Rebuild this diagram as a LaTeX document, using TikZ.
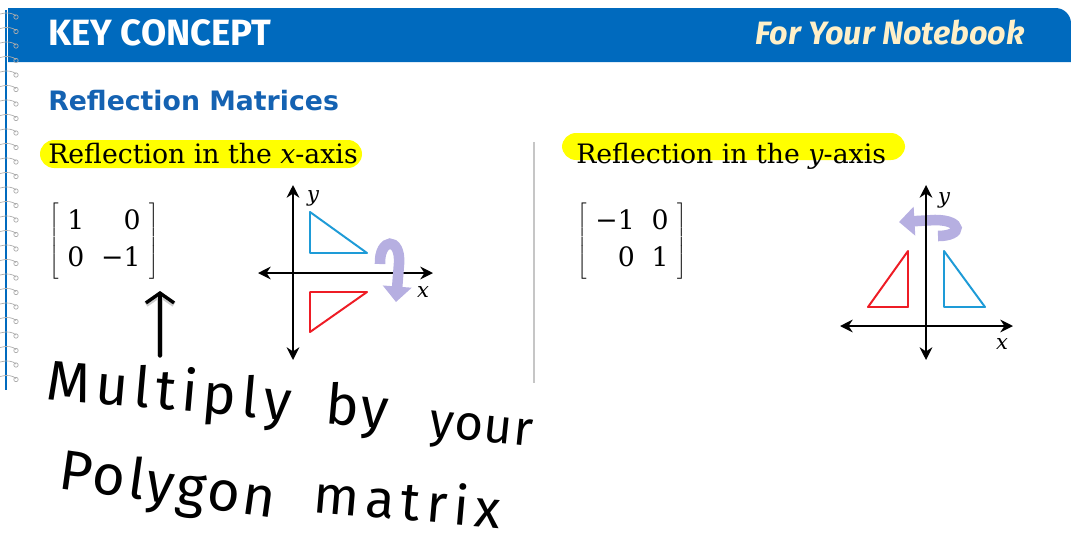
\documentclass[tikz,border=0pt]{standalone}
\usepackage{fontspec}
\setmainfont{DejaVu Serif}
\newfontfamily\headfont{Fira Sans}
\newfontfamily\sectfont{DejaVu Sans}
\newfontfamily\handfont{Fira Sans}
\usetikzlibrary{arrows.meta}

\definecolor{keyblue}{RGB}{0,106,190}
\definecolor{titleblue}{RGB}{20,98,178}
\definecolor{notecream}{RGB}{255,240,200}
\definecolor{triblue}{RGB}{30,155,215}
\definecolor{trired}{RGB}{238,28,37}
\definecolor{turnlilac}{RGB}{182,175,225}
\definecolor{hiyellow}{RGB}{255,255,0}

\tikzset{
  axisline/.style={line width=1.7pt,
    {Stealth[length=9pt,width=9pt]}-{Stealth[length=9pt,width=9pt]}},
  triline/.style={line width=1.4pt, line join=round},
  turnarrow/.style={line width=7.5pt, turnlilac,
    -{Triangle[length=11pt,width=20pt]}},
  hilite/.style={fill=hiyellow, rounded corners=10pt},
  handpen/.style={line width=2.4pt, black, line cap=round, line join=round,
    preaction={draw, line width=4pt, gray!40}},
  handword/.style={inner sep=0pt, anchor=base west},
  axlabel/.style={font=\itshape\fontsize{15}{18}\selectfont, inner sep=0pt},
  matnode/.style={font=\fontsize{19}{23}\selectfont, inner sep=0pt}
}

% --- Рукописный шрифт: размер и разрядка ---
\newcommand\handsize[2]{\handfont\addfontfeature{LetterSpace=#2}\fontsize{#1}{#1}\selectfont}
\newcommand\bigbrace{\rule[-24pt]{0pt}{57pt}}

\begin{document}
\begin{tikzpicture}[x=0.025cm, y=-0.025cm]

\useasboundingbox (0,0) rectangle (1071,541);

% --- Шапка ---
\fill[keyblue] (8,62) -- (8,8) [rounded corners=11pt] -- (1071,8)
  [sharp corners] -- (1071,62) -- cycle;
\node[anchor=base west, inner sep=0pt, white,
  font=\headfont\bfseries\fontsize{26}{30}\selectfont] (keytitle) at (48,45) {KEY CONCEPT};
\node[anchor=base east, inner sep=0pt, notecream,
  font=\headfont\bfseries\itshape\fontsize{23}{27}\selectfont] (notebook) at (1025,44) {For Your Notebook};

% --- Спираль блокнота ---
\draw[keyblue, line width=1.4pt] (6,10) -- (6,390);
\foreach \yy in {14,28.5,...,388} {
  \draw[gray!65, line width=0.5pt] (0,\yy) .. controls (7,\yy-2) and (13,\yy-1) .. (16,\yy+2);
  \draw[gray!65, line width=0.5pt] (16,\yy+3) circle (2.2);
}

% --- Заголовок раздела ---
\node[anchor=base west, inner sep=0pt, titleblue,
  font=\sectfont\bfseries\fontsize{19}{23}\selectfont] (sectitle) at (48,110) {Reflection Matrices};

% --- Подсветка ---
\path[hilite] (40,140) rectangle (362,168);
\path[hilite] (562,133) rectangle (905,160);
\node[anchor=base west, inner sep=0pt, font=\fontsize{19}{23}\selectfont]
  (xhead) at (48,163) {Reflection in the \textit{x}-axis};
\node[anchor=base west, inner sep=0pt, font=\fontsize{19}{23}\selectfont]
  (yhead) at (576,163) {Reflection in the \textit{y}-axis};

% --- Разделитель ---
\draw[gray!45, line width=1.1pt] (534,142) -- (534,383);

% --- Матрицы ---
\setlength{\arraycolsep}{6pt}
\node[matnode] (xmat) at (104,241)
  {$\left[\bigbrace\begin{array}{rr}\mbox{1} & \mbox{0}\\[3pt] \mbox{0} & \mbox{−1}\end{array}\right]$};
\node[matnode] (ymat) at (632,241)
  {$\left[\bigbrace\begin{array}{rr}\mbox{−1} & \mbox{0}\\[3pt] \mbox{0} & \mbox{1}\end{array}\right]$};

% --- Отражение в оси x ---
\draw[triline, triblue] (310,212) -- (310,253) -- (367,253) -- cycle;
\draw[triline, trired] (310,292) -- (367,292) -- (310,332) -- cycle;
\draw[axisline] (293,360) -- (293,185);
\draw[axisline] (258,273) -- (433,273);
\node[axlabel] (xly) at (313,198) {y};
\node[axlabel] (xlx) at (423,292) {x};
\draw[turnarrow] (380,264) .. controls (379,238) and (401,236) .. (399,264) -- (396,302);

% --- Отражение в оси y ---
\draw[triline, triblue] (944,251) -- (944,307) -- (985,307) -- cycle;
\draw[triline, trired] (908,251) -- (908,307) -- (868,307) -- cycle;
\draw[turnarrow] (938,236) .. controls (963,236) and (963,220) .. (935,220) -- (899,222);
\draw[axisline] (926,360) -- (926,185);
\draw[axisline] (840,326) -- (1013,326);
\node[axlabel] (yly) at (944,200) {y};
\node[axlabel] (ylx) at (1002,344) {x};

% --- Рукописная заметка ---
\coordinate (pentail) at (160,356);
\coordinate (penhead) at (160,291);
\draw[handpen, -{Straight Barb[length=7pt,width=20pt]}] (pentail) -- (penhead);

\node[handword, rotate=-5, font=\handsize{40}{10}] (wmultiply) at (45,399) {Multiply};
\node[handword, rotate=-5, font=\handsize{40}{4}] (wby) at (324,423) {by};
\node[handword, rotate=-6, font=\handsize{35}{2}] (wyour) at (428,436) {your};
\node[handword, rotate=-8, font=\handsize{40}{5}] (wpolygon) at (57,488) {Polygon};
\node[handword, rotate=-5, font=\handsize{38}{12}] (wmatrix) at (312,512) {matrix};

\end{tikzpicture}
\end{document}
